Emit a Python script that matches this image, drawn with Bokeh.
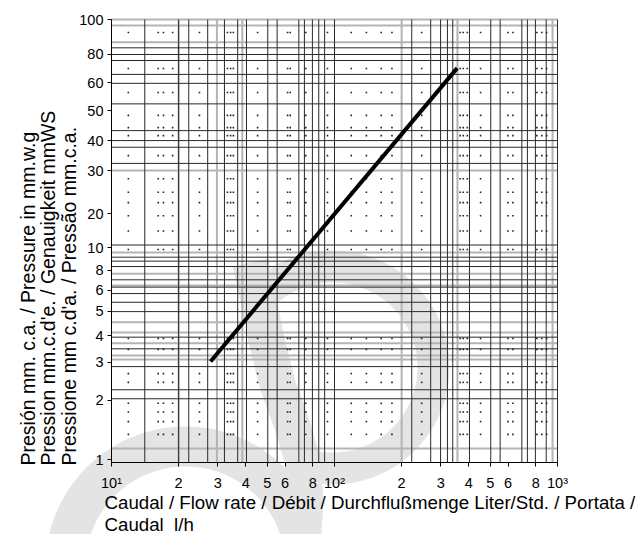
import numpy as np
from bokeh.plotting import figure
from bokeh.models import FixedTicker, Label, Range1d
from bokeh.embed import file_html
from bokeh.resources import INLINE

# ---- data ----
flow = [27.8, 355.0]          # l/h
pressure = [2.86, 60.3]       # mm c.a.

x_ticks = [10, 20, 30, 40, 50, 60, 80, 100, 200, 300, 400, 500, 600, 800, 1000]
x_tick_labels = ["10¹", "2", "3", "4", "5", "6", "8", "10²", "2", "3", "4", "5", "6", "8", "10³"]
y_ticks = [1.03, 1.91, 2.83, 3.74, 4.81, 5.98, 7.37, 9.33, 13.3, 20.8, 28.4, 38.8, 51.9, 69.7, 100]
y_tick_labels = ["1", "2", "3", "4", "5", "6", "8", "10", "20", "30", "40", "50", "60", "80", "100"]

# grid lines of the chart paper
x_dark = [10, 14.1, 20, 22.2, 27.0, 32.1, 36.8, 40.3, 50.2, 55.3, 69.2, 73.3, 79.6, 85.0, 90.3,
          100, 222, 270, 299, 321, 339, 403, 502, 553, 692, 733, 796, 890, 1000]
x_light = [20, 29.7, 38.6, 200, 356, 950]
y_dark = [74.5, 69.5, 65.3, 56.5, 51.5, 41.6, 31.5, 28.4, 26.5, 22.4, 9.59, 8.45, 8.11, 7.67,
          6.68, 6.19, 5.79, 5.29, 4.80, 3.68, 3.26, 2.71, 2.13, 1.94]
y_light = [100, 93.9, 79.0, 20.8, 8.87, 7.11, 6.30, 4.30, 3.86, 3.45, 3.04, 2.92, 1.157]
dot_cols = [11.9, 16.2, 17.1, 18.8, 24.8, 33.1, 34.2, 35.2, 45.2, 61.6, 63.3, 74.3, 93,
            118.9, 139, 162, 181, 246, 366, 378, 394, 452, 599, 631, 808, 851, 894]
dot_rows = [87.4, 60.1, 46.8, 36.9, 32.5, 29.9, 24.3, 19.1, 16.6, 14.9, 13.0, 11.1, 9.16,
            3.63, 3.24, 2.52, 2.30, 1.85, 1.69, 1.53, 1.34]

x_title_lines = ["Caudal / Flow rate / Débit / Durchflußmenge Liter/Std. / Portata /", "Caudal\u00a0 l/h"]
y_title_lines = ["Presión mm. c.a. / Pressure in mm.w.g",
                 "Pression mm.c.d'e. / Genauigkeit mmWS",
                 "Pressione mm c.d'a. / Pressão mm.c.a."]

FONT = "Liberation Sans"
X0, X1, Y0, Y1 = 10, 1000, 1, 100

# page geometry: the 10..1000 x 1..100 area sits at these pixels of the canvas
FL, FR, FT, FB = 111, 557, 19, 462
W, H = 641, 534

def px2x(px):
    return 10 ** (1 + 2 * (px - FL) / (FR - FL))

def py2y(py):
    return 10 ** (2 * (FB - py) / (FB - FT))

p = figure(width=W, height=H, x_axis_type="log", y_axis_type="log",
           x_range=Range1d(px2x(0), px2x(W)), y_range=Range1d(py2y(H), py2y(0)),
           output_backend="svg", toolbar_location=None, min_border=0)
p.outline_line_color = None
p.xgrid.visible = False
p.ygrid.visible = False

# ---- watermark (decorative light-grey logo arcs, page pixels -> data) ----
WM = "#e4e4e4"

def arc_poly(cx, cy, r_in, r_out, a0, a1, n=180):
    t = np.radians(np.linspace(a0, a1, n))
    xs = np.concatenate([cx + r_out * np.cos(t), cx + r_in * np.cos(t[::-1])])
    ys = np.concatenate([cy - r_out * np.sin(t), cy - r_in * np.sin(t[::-1])])
    return [px2x(v) for v in xs], [py2y(v) for v in ys]

def band_poly(points, w):
    pts = np.array(points, float)
    tg = np.gradient(pts, axis=0)
    tg /= np.linalg.norm(tg, axis=1)[:, None]
    nrm = np.stack([-tg[:, 1], tg[:, 0]], axis=1)
    poly = np.concatenate([pts + nrm * w / 2, (pts - nrm * w / 2)[::-1]])
    return [px2x(v) for v in poly[:, 0]], [py2y(v) for v in poly[:, 1]]

for (cx, cy, ri, ro, a0, a1) in [(332, 367, 85, 117, -115, 135), (185, 566, 100, 140, 0, 180)]:
    xs, ys = arc_poly(cx, cy, ri, ro, a0, a1)
    p.patch(xs, ys, fill_color=WM, line_color=None)
xs, ys = band_poly([(250, 262), (258, 300), (266, 340), (278, 387), (292, 425),
                    (302, 460), (305, 500), (302, 545)], 36)
p.patch(xs, ys, fill_color=WM, line_color=None)

# ---- chart paper grid ----
def vlines(vals, color, width):
    n = len(vals)
    p.segment(x0=vals, y0=[Y0] * n, x1=vals, y1=[Y1] * n, line_color=color, line_width=width)

def hlines(vals, color, width):
    n = len(vals)
    p.segment(x0=[X0] * n, y0=vals, x1=[X1] * n, y1=vals, line_color=color, line_width=width)

vlines(x_light, "#b4b4b4", 2)
hlines(y_light, "#b4b4b4", 2)
vlines(x_dark, "#2a2a2a", 1)
hlines(y_dark, "#2a2a2a", 1)

dx, dy = np.meshgrid(dot_cols, dot_rows)
p.scatter(dx.ravel(), dy.ravel(), marker="square", size=1.6, color="#222222", line_color=None)

# ---- the characteristic ----
p.line(flow, pressure, line_width=4, color="black")

# ---- axes, fixed on the chart area ----
xa, ya = p.xaxis[0], p.yaxis[0]
xa.fixed_location = Y0
xa.bounds = (X0, X1)
ya.fixed_location = X0
ya.bounds = (Y0, Y1)
xa.ticker = FixedTicker(ticks=x_ticks)
xa.major_label_overrides = {float(v): s for v, s in zip(x_ticks, x_tick_labels)}
ya.ticker = FixedTicker(ticks=y_ticks)
ya.major_label_overrides = {float(v): s for v, s in zip(y_ticks, y_tick_labels)}
for ax in (xa, ya):
    ax.axis_line_color = "black"
    ax.axis_line_width = 1
    ax.major_tick_line_color = "black"
    ax.major_tick_in = 0
    ax.major_tick_out = 4
    ax.minor_tick_line_color = None
    ax.major_label_text_font = FONT
    ax.major_label_text_font_size = "14.5px"
    ax.major_label_text_color = "black"
xa.major_label_standoff = 8
ya.major_label_standoff = 4

# ---- axis titles ----
for i, t in enumerate(x_title_lines):
    p.add_layout(Label(x=px2x(104), y=py2y(502 + 22 * i), text=t,
                       text_font=FONT, text_font_size="18.7px", text_color="black",
                       text_align="left", text_baseline="alphabetic"))
for i, t in enumerate(y_title_lines):
    p.add_layout(Label(x=px2x(27 + 20.5 * i), y=py2y(465), text=t,
                       angle=np.pi / 2, text_font=FONT, text_font_size="19.5px",
                       text_color="black", text_align="left", text_baseline="alphabetic"))

open("out.html", "w").write(file_html(p, INLINE))
